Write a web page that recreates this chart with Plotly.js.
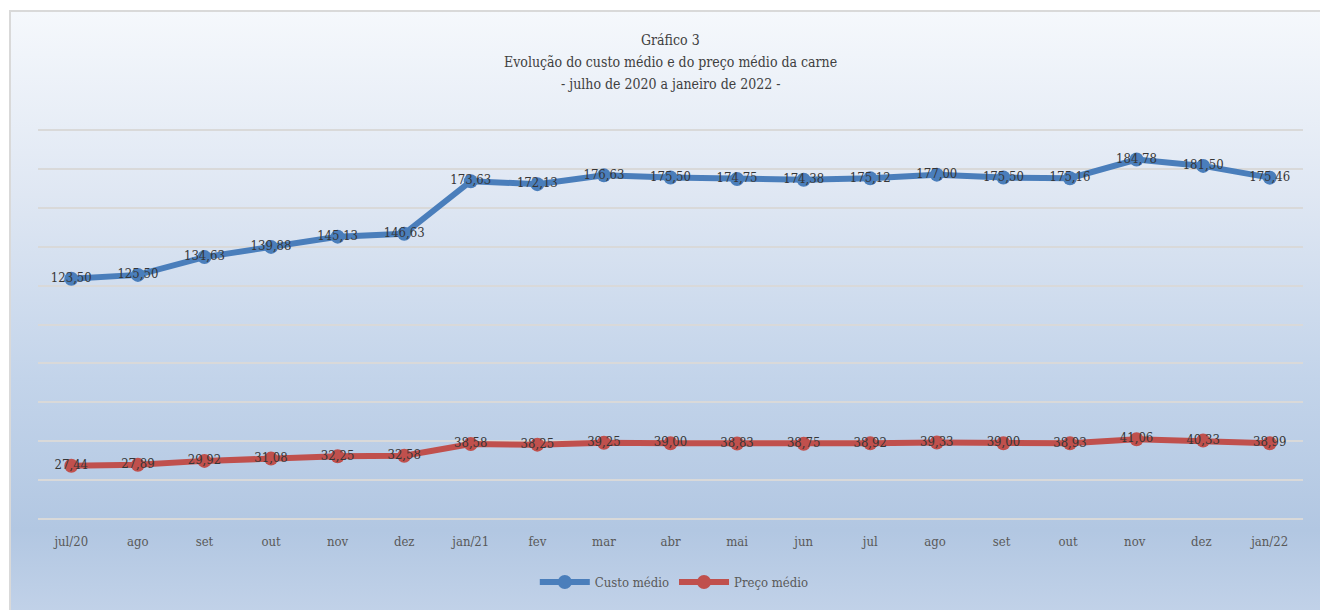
<!DOCTYPE html>
<html>
<head>
<meta charset="utf-8">
<script src="https://cdn.plot.ly/plotly-3.0.1.min.js"></script>
<style>
  html, body { margin: 0; padding: 0; width: 1320px; height: 610px; overflow: hidden; background: #ffffff; }
  #bg { position: absolute; left: 9px; top: 10px; width: 1320px; height: 610px;
        border-top: 2px solid #d9d9d9; border-left: 2px solid #d9d9d9;
        background: linear-gradient(to bottom, #f5f8fc 0%, #dfe7f3 30%, #c3d4ea 60%, #b2c7e2 85%, #c3d3e9 100%); }
  #chart { position: absolute; left: 0; top: 0; width: 1320px; height: 610px; }
</style>
</head>
<body>
<div id="bg"></div>
<div id="chart"></div>
<script>
const months = ["jul/20","ago","set","out","nov","dez","jan/21","fev","mar","abr","mai","jun","jul","ago ","set ","out ","nov ","dez ","jan/22"];
const custoMedio = [123.50,125.50,134.63,139.88,145.13,146.63,173.63,172.13,176.63,175.50,174.75,174.38,175.12,177.00,175.50,175.16,184.78,181.50,175.46];
const precoMedio = [27.44,27.89,29.92,31.08,32.25,32.58,38.58,38.25,39.25,39.00,38.83,38.75,38.92,39.33,39.00,38.93,41.06,40.33,38.99];
const seriesNames = ["Custo médio","Preço médio"];
const titleLines = ["Gráfico 3","Evolução do custo médio e do preço médio da carne","- julho de 2020 a janeiro de 2022 -"];
const gridVals = [0,20,40,60,80,100,120,140,160,180,200];

const FONT = "'DejaVu Serif Condensed', 'Liberation Sans Narrow', 'DejaVu Serif', serif";
const fmt = v => v.toFixed(2).replace('.', ',');

const mk = (y, name, color) => ({
  x: months, y: y, name: name, type: 'scatter', mode: 'lines+markers+text',
  line: {color: color, width: 6},
  marker: {color: color, size: 14},
  text: y.map(fmt), textposition: 'middle center',
  textfont: {family: FONT, size: 13, color: '#363636'},
  hoverinfo: 'x+y'
});

const data = [mk(custoMedio, seriesNames[0], '#4a7ebb'), mk(precoMedio, seriesNames[1], '#c0504d')];

// plot area spans page y 126..523 (range -2..202)
const PT = 126, PB = 523;
const py = p => (PB - p) / (PB - PT);
const titleY = [40, 62, 84];

const layout = {
  width: 1320, height: 610,
  paper_bgcolor: 'rgba(0,0,0,0)', plot_bgcolor: 'rgba(0,0,0,0)',
  margin: {l: 38, r: 17, t: PT, b: 610 - PB},
  font: {family: FONT, color: '#595959'},
  annotations: titleLines.map((t, i) => ({
    text: t, xref: 'paper', yref: 'paper', x: 0.5, xanchor: 'center',
    y: py(titleY[i]), yanchor: 'middle', showarrow: false,
    font: {family: FONT, size: 14, color: '#404040'}
  })),
  xaxis: {
    type: 'category', range: [-0.5, 18.5], showgrid: false, zeroline: false, showline: false,
    ticks: '', tickfont: {family: FONT, size: 13, color: '#595959'}, ticklabelstandoff: 9
  },
  yaxis: {
    range: [-2, 202], tickvals: gridVals, showticklabels: false, showgrid: true,
    gridcolor: '#d9d9d9', gridwidth: 2, zeroline: false, showline: false
  },
  showlegend: true,
  legend: {
    orientation: 'h', x: 0.503, xanchor: 'center', y: py(582), yanchor: 'middle',
    font: {family: FONT, size: 13, color: '#595959'}, bgcolor: 'rgba(0,0,0,0)', itemwidth: 50
  }
};

Plotly.newPlot('chart', data, layout, {displayModeBar: false, staticPlot: true});
</script>
</body>
</html>
